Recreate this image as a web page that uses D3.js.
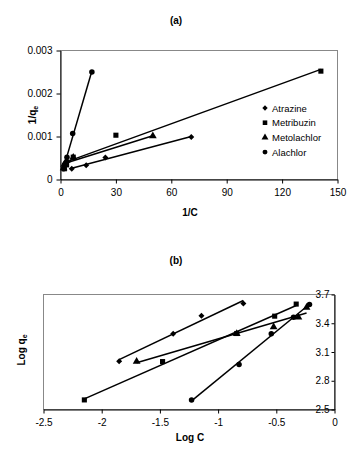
<!DOCTYPE html>
<html lang="en">
<head>
<meta charset="UTF-8">
<title>Langmuir and Freundlich isotherms</title>
<script src="https://cdn.jsdelivr.net/npm/d3@7"></script>
<style>
  html, body { margin: 0; padding: 0; background: #fff; }
  svg { display: block; font-family: "Liberation Sans", Arial, sans-serif; }
  .frame { fill: none; stroke: #888; stroke-width: 1; }
  .axis path, .axis line { stroke: #000; }
  .axis text { font-size: 10px; fill: #000; }
  .ttl { font-size: 10px; font-weight: bold; }
</style>
</head>
<body>
<svg id="chart" width="350" height="469"></svg>
<script>
// herbicide names
const herbicides = ["Atrazine", "Metribuzin", "Metolachlor", "Alachlor"];
// diamond = square turned 45 degrees
const markerTypes = [d3.symbolSquare, d3.symbolSquare, d3.symbolTriangle, d3.symbolCircle];
const markerTurn = [45, 0, 0, 0];
const markerSizes = [18, 26, 26, 24];

// (a) Langmuir: 1/C vs 1/qe
const atrazineInvC = [70.8, 24.3, 13.9, 6.1];
const atrazineInvQ = [0.00099, 0.00051, 0.00033, 0.00025];
const metribuzinInvC = [141, 30, 6.9, 3.3, 2.1];
const metribuzinInvQ = [0.00252, 0.00103, 0.00052, 0.00034, 0.00025];
const metolachlorInvC = [50, 6.9, 3.3, 2.0, 1.7];
const metolachlorInvQ = [0.00101, 0.00051, 0.00044, 0.00035, 0.00027];
const alachlorInvC = [17, 6.6, 3.5, 2.2, 1.7];
const alachlorInvQ = [0.0025, 0.00107, 0.00052, 0.00034, 0.00025];

// (b) Freundlich: Log C vs Log qe
const atrazineLogC = [-1.85, -1.386, -1.143, -0.783];
const atrazineLogQ = [3.004, 3.29, 3.477, 3.606];
const metribuzinLogC = [-2.149, -1.477, -0.84, -0.514, -0.329];
const metribuzinLogQ = [2.60, 3.0, 3.293, 3.474, 3.60];
const metolachlorLogC = [-1.70, -0.84, -0.523, -0.31, -0.24];
const metolachlorLogQ = [3.00, 3.29, 3.362, 3.463, 3.565];
const alachlorLogC = [-1.228, -0.82, -0.543, -0.352, -0.215];
const alachlorLogQ = [2.60, 2.97, 3.29, 3.463, 3.596];

// tick values
const xTicksA = [0, 30, 60, 90, 120, 150];
const yTicksA = [0, 0.001, 0.002, 0.003];
const xTicksB = [-2.5, -2, -1.5, -1, -0.5, 0];
const yTicksB = [2.5, 2.8, 3.1, 3.4, 3.7];

const seriesA = [
  [atrazineInvC, atrazineInvQ], [metribuzinInvC, metribuzinInvQ],
  [metolachlorInvC, metolachlorInvQ], [alachlorInvC, alachlorInvQ]
];
const seriesB = [
  [atrazineLogC, atrazineLogQ], [metribuzinLogC, metribuzinLogQ],
  [metolachlorLogC, metolachlorLogQ], [alachlorLogC, alachlorLogQ]
];

const svg = d3.select("#chart");

// least squares line over the data range (like an Excel trendline)
function trend(xs, ys) {
  const mx = d3.mean(xs), my = d3.mean(ys);
  const b = d3.sum(xs, (x, i) => (x - mx) * (ys[i] - my)) / d3.sum(xs, x => (x - mx) * (x - mx));
  const a = my - b * mx;
  const [lo, hi] = d3.extent(xs);
  return [[lo, a + b * lo], [hi, a + b * hi]];
}

function drawSeries(g, series, x, y) {
  series.forEach(([xs, ys], k) => {
    g.append("path")
      .attr("d", d3.line().x(d => x(d[0])).y(d => y(d[1]))(trend(xs, ys)))
      .attr("fill", "none").attr("stroke", "#000").attr("stroke-width", 1.5);
    g.selectAll(null).data(xs.map((v, i) => [v, ys[i]])).enter()
      .append("path")
      .attr("transform", d => `translate(${x(d[0])},${y(d[1])}) rotate(${markerTurn[k]})`)
      .attr("d", d3.symbol().type(markerTypes[k]).size(markerSizes[k]))
      .attr("fill", "#000");
  });
}

// ---------- panel (a) ----------
const xa = d3.scaleLinear().domain([0, 150]).range([60.5, 337.5]);
const ya = d3.scaleLinear().domain([0, 0.003]).range([179.5, 50.5]);

svg.append("rect").attr("class", "frame")
  .attr("x", 60.5).attr("y", 50.5).attr("width", 277).attr("height", 129);

const gA = svg.append("g");
drawSeries(gA, seriesA, xa, ya);

svg.append("g").attr("class", "axis")
  .attr("transform", "translate(0,179.5)")
  .call(d3.axisBottom(xa).tickValues(xTicksA).tickSize(4).tickSizeOuter(0).tickPadding(5));
svg.append("g").attr("class", "axis")
  .attr("transform", "translate(60.5,0)")
  .call(d3.axisLeft(ya).tickValues(yTicksA).tickSize(4).tickSizeOuter(0).tickPadding(4)
    .tickFormat(d => d === 0 ? "0" : d3.format(".3f")(d)));

svg.append("text").attr("class", "ttl").attr("x", 176).attr("y", 24)
  .attr("text-anchor", "middle").text("(a)");
svg.append("text").attr("class", "ttl").attr("x", 190).attr("y", 216)
  .attr("text-anchor", "middle").text("1/C");
const qa = svg.append("text").attr("class", "ttl")
  .attr("transform", "translate(36,115) rotate(-90)").attr("text-anchor", "middle");
qa.append("tspan").text("1/q");
qa.append("tspan").attr("font-size", "7px").attr("dy", 2).text("e");

// legend
const legend = svg.append("g").attr("transform", "translate(265,108)");
herbicides.forEach((name, k) => {
  const row = legend.append("g").attr("transform", `translate(0,${k * 14.7})`);
  row.append("path")
    .attr("transform", `rotate(${markerTurn[k]})`)
    .attr("d", d3.symbol().type(markerTypes[k]).size(markerSizes[k] * 0.8)).attr("fill", "#000");
  row.append("text").attr("x", 7).attr("y", 3.5).attr("font-size", "9.5px").text(name);
});

// ---------- panel (b) ----------
const xb = d3.scaleLinear().domain([-2.5, 0]).range([43.5, 334.5]);
const yb = d3.scaleLinear().domain([2.5, 3.7]).range([409.5, 294.5]);

svg.append("rect").attr("class", "frame")
  .attr("x", 43.5).attr("y", 294.5).attr("width", 291).attr("height", 115);

const gB = svg.append("g");
drawSeries(gB, seriesB, xb, yb);

svg.append("g").attr("class", "axis")
  .attr("transform", "translate(0,409.5)")
  .call(d3.axisBottom(xb).tickValues(xTicksB).tickSize(4).tickSizeOuter(0).tickPadding(5)
    .tickFormat(d => d3.format("")(d).replace("−", "-")));
svg.append("g").attr("class", "axis")
  .attr("transform", "translate(334.5,0)")
  .call(d3.axisLeft(yb).tickValues(yTicksB).tickSize(3).tickSizeOuter(0).tickPadding(2)
    .tickFormat(d3.format(".1f")));

svg.append("text").attr("class", "ttl").attr("x", 176).attr("y", 264)
  .attr("text-anchor", "middle").text("(b)");
svg.append("text").attr("class", "ttl").attr("x", 190).attr("y", 441)
  .attr("text-anchor", "middle").text("Log C");
const qb = svg.append("text").attr("class", "ttl")
  .attr("transform", "translate(25,350) rotate(-90)").attr("text-anchor", "middle");
qb.append("tspan").text("Log q");
qb.append("tspan").attr("font-size", "7px").attr("dy", 2).text("e");
</script>
</body>
</html>
